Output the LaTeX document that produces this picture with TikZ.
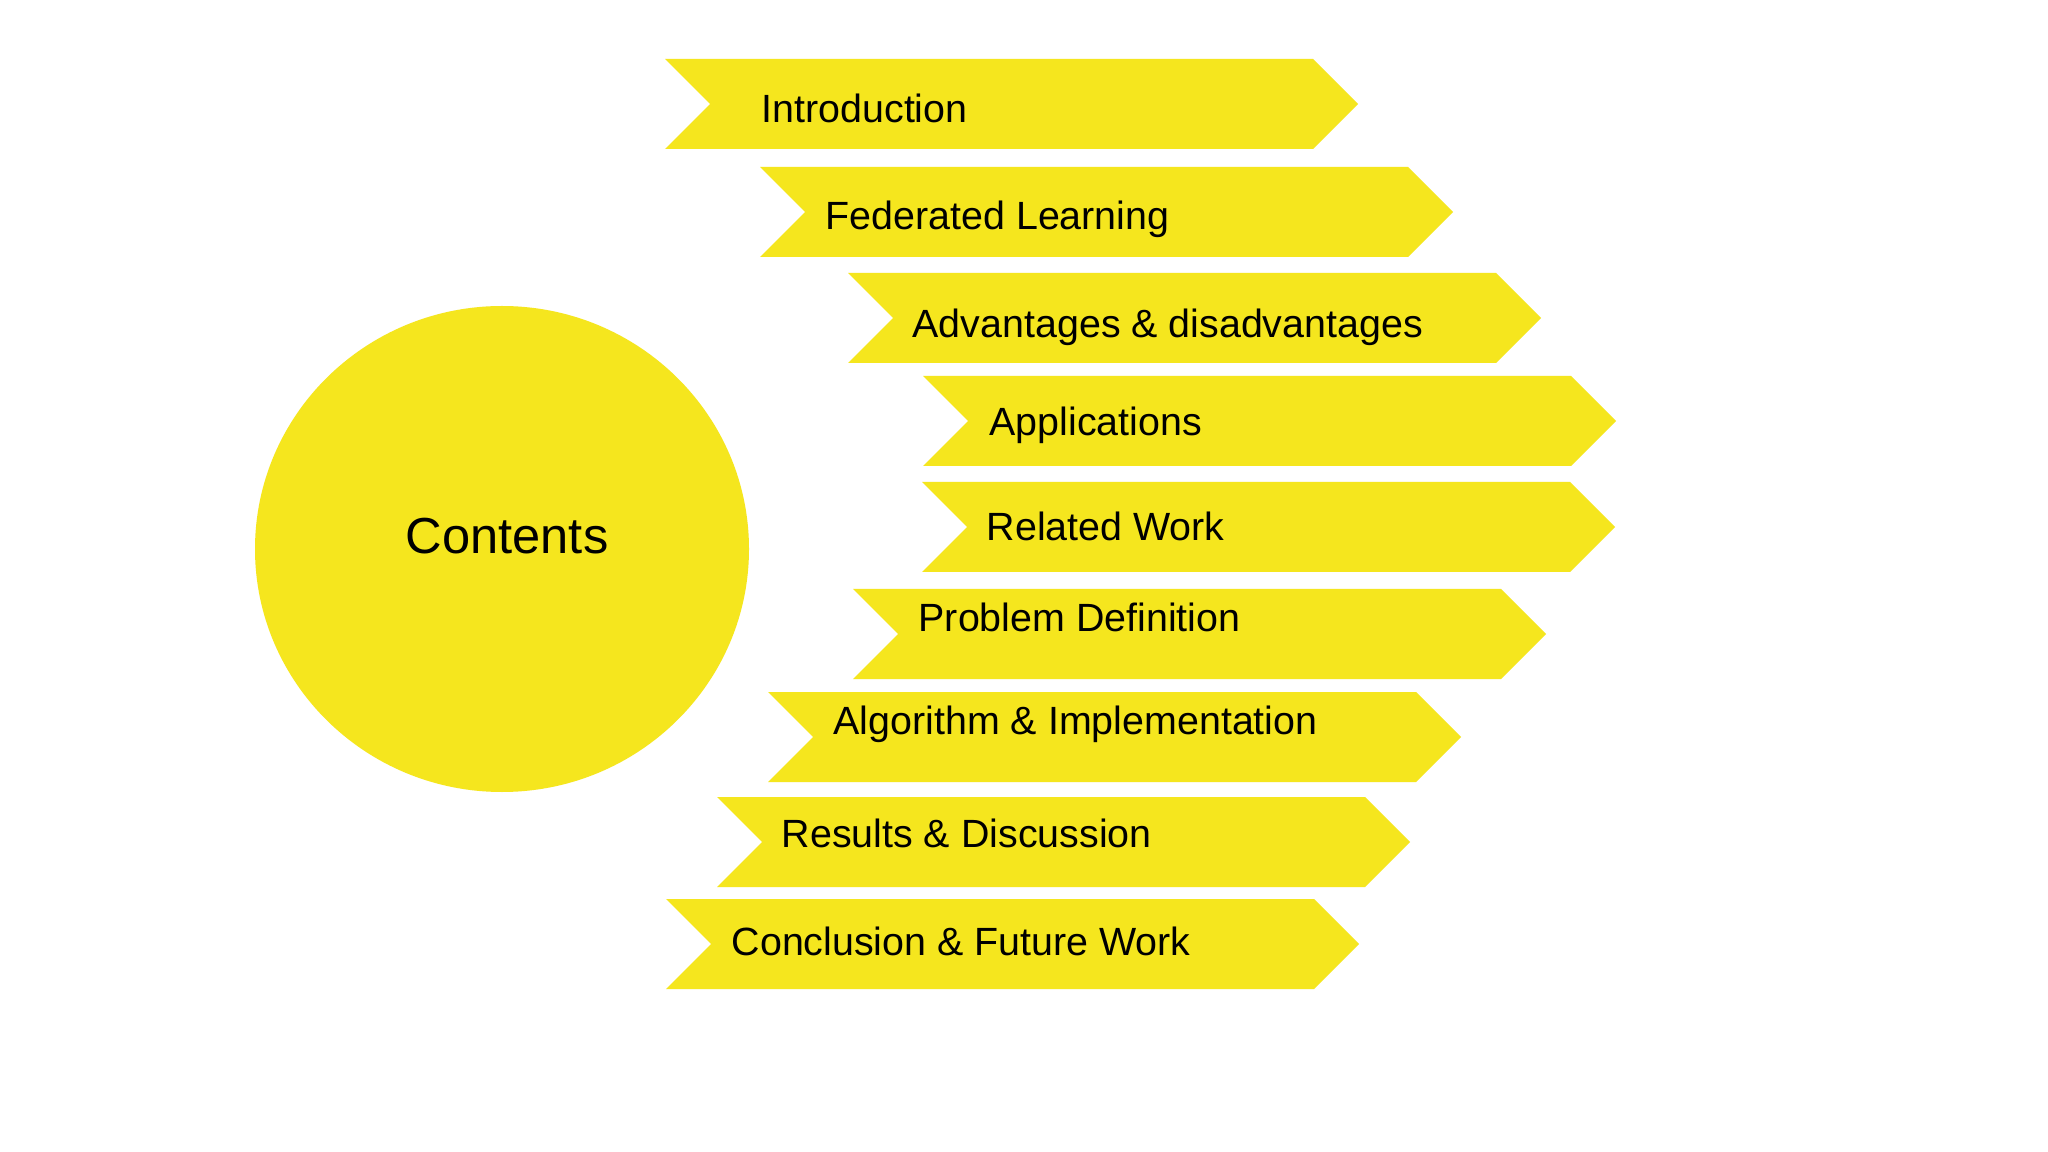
\documentclass[tikz,border=0pt]{standalone}
\usepackage{fontspec}
\usetikzlibrary{shapes.geometric}
\setmainfont{Liberation Sans}
\definecolor{chevyellow}{RGB}{245,230,30}
\tikzset{
  chevfill/.style={fill=chevyellow, draw=none},
  chevtext/.style={anchor=base west, inner sep=0pt, font=\fontsize{11.2pt}{13pt}\selectfont, text=black},
  bigtext/.style={anchor=base, inner sep=0pt, font=\fontsize{14.4pt}{17pt}\selectfont, text=black}
}
\newcommand{\chevron}[2]{%
  \fill[chevfill] (#1,#2) -- ++(648,0) -- ++(45,45) -- ++(-45,45) -- ++(-648,0) -- ++(45,-45) -- cycle;}
\begin{document}
\begin{tikzpicture}[x=0.01cm, y=-0.01cm]
\useasboundingbox (0,0) rectangle (2048,1152);
\fill[white] (0,0) rectangle (2048,1152);
% circle
\node[ellipse, fill=chevyellow, minimum width=494*0.01cm, minimum height=486*0.01cm, inner sep=0pt] (circ) at (502,549) {};
\node[bigtext] (contents) at (507,554) {Contents};
% chevrons
\chevron{665}{59}
\chevron{760}{167}
\chevron{848}{273}
\chevron{923}{376}
\chevron{922}{482}
\chevron{853}{589}
\chevron{768}{692}
\chevron{717}{797}
\chevron{666}{899}
% labels
\node[chevtext] (t1) at (761,123) {Introduction};
\node[chevtext] (t2) at (825,230) {Federated Learning};
\node[chevtext] (t3) at (912,338) {Advantages \& disadvantages};
\node[chevtext] (t4) at (989,436) {Applications};
\node[chevtext] (t5) at (986,541) {Related Work};
\node[chevtext] (t6) at (918,631) {Problem Definition};
\node[chevtext] (t7) at (833,735) {Algorithm \& Implementation};
\node[chevtext] (t8) at (781,847) {Results \& Discussion};
\node[chevtext] (t9) at (731,955) {Conclusion \& Future Work};
\end{tikzpicture}
\end{document}
